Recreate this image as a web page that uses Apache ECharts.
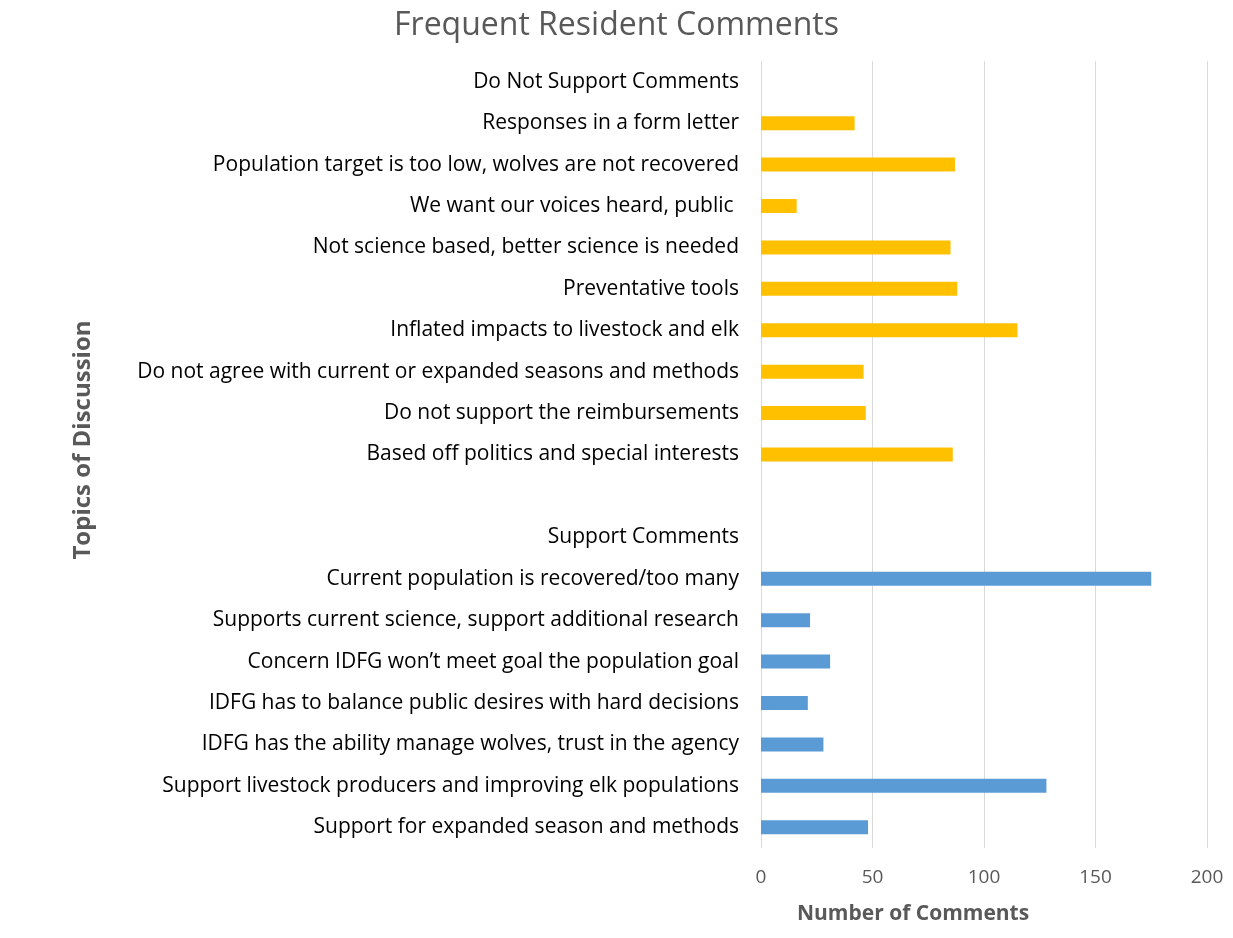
<!DOCTYPE html>
<html>
<head>
<meta charset="utf-8">
<script src="https://cdn.jsdelivr.net/npm/echarts@6/dist/echarts.min.js"></script>
<style>html,body{margin:0;padding:0;background:#fff}#c{width:1233px;height:938px}</style>
</head>
<body>
<div id="c"></div>
<script>
const categories = [
  "Do Not Support Comments",
  "Responses in a form letter",
  "Population target is too low, wolves are not recovered",
  "We want our voices heard, public ",
  "Not science based, better science is needed",
  "Preventative tools",
  "Inflated impacts to livestock and elk",
  "Do not agree with current or expanded seasons and methods",
  "Do not support the reimbursements",
  "Based off politics and special interests",
  "",
  "Support Comments",
  "Current population is recovered/too many",
  "Supports current science, support additional research",
  "Concern IDFG won\u2019t meet goal the population goal",
  "IDFG has to balance public desires with hard decisions",
  "IDFG has the ability manage wolves, trust in the agency",
  "Support livestock producers and improving elk populations",
  "Support for expanded season and methods"
];
const doNotSupport = ['-', 42, 87, 16, 85, 88, 115, 46, 47, 86, '-', '-', '-', '-', '-', '-', '-', '-', '-'];
const support = ['-', '-', '-', '-', '-', '-', '-', '-', '-', '-', '-', '-', 175, 22, 31, 21, 28, 128, 48];
const xTicks = [0, 50, 100, 150, 200];

const chart = echarts.init(document.getElementById('c'));
const FONT = '"Open Sans"';
chart.setOption({
  animation: false,
  textStyle: { fontFamily: FONT },
  title: {
    text: 'Frequent Resident Comments',
    left: 'center', top: 5,
    textStyle: { fontFamily: FONT, fontSize: 32, fontWeight: 'normal', color: '#595959' }
  },
  grid: { left: 761, right: 26, top: 61, bottom: 90, containLabel: false },
  xAxis: {
    type: 'value', min: xTicks[0], max: xTicks[xTicks.length - 1], interval: 50,
    axisLine: { show: false }, axisTick: { show: false },
    axisLabel: { color: '#595959', fontSize: 19, margin: 20 },
    splitLine: { show: true, lineStyle: { color: '#d9d9d9', width: 1 } }
  },
  yAxis: {
    type: 'category', data: categories, inverse: true,
    axisLine: { show: false }, axisTick: { show: false },
    axisLabel: { color: '#000', fontSize: 21, margin: 22 }
  },
  series: [
    { type: 'bar', name: 'Do Not Support', stack: 'a', data: doNotSupport, barWidth: 14,
      itemStyle: { color: '#FFC000' } },
    { type: 'bar', name: 'Support', stack: 'a', data: support, barWidth: 14,
      itemStyle: { color: '#5B9BD5' } }
  ],
  graphic: [
    { type: 'text', left: 797, top: 904,
      style: { text: 'Number of Comments', font: 'bold 21px ' + FONT, fill: '#595959' } },
    { type: 'text', x: 83, y: 440, rotation: Math.PI / 2,
      style: { text: 'Topics of Discussion', font: 'bold 24px ' + FONT, fill: '#595959',
               align: 'center', verticalAlign: 'middle' } }
  ]
});
</script>
</body>
</html>
